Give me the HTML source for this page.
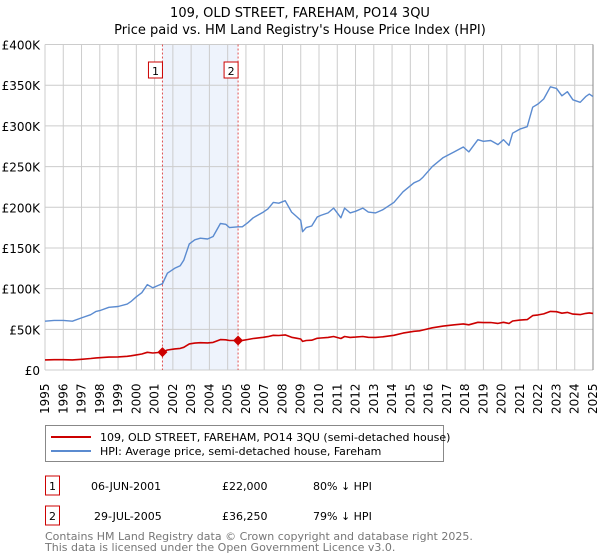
<!DOCTYPE html>
<html><head><meta charset="utf-8"><style>
body{margin:0;background:#fff;font-family:"Liberation Sans","DejaVu Sans",sans-serif;}
#wrap{position:relative;width:600px;height:560px;overflow:hidden}
svg text{font-family:"DejaVu Sans","Liberation Sans",sans-serif}
</style></head><body>
<div id="wrap">
<svg id="chart" width="600" height="560"></svg>
</div>
<script>
const years=[1995.0,1995.5,1996.0,1996.5,1997.0,1997.5,1997.8,1998.0,1998.5,1999.0,1999.5,1999.7,2000.0,2000.3,2000.6,2000.9,2001.2,2001.43,2001.7,2002.1,2002.4,2002.6,2002.9,2003.2,2003.5,2003.9,2004.2,2004.6,2004.9,2005.1,2005.57,2005.8,2006.1,2006.4,2006.95,2007.2,2007.5,2007.8,2008.15,2008.5,2008.8,2009.0,2009.1,2009.3,2009.6,2009.9,2010.1,2010.5,2010.8,2011.2,2011.4,2011.7,2012.0,2012.4,2012.7,2013.1,2013.5,2014.1,2014.6,2015.2,2015.5,2015.7,2016.2,2016.8,2017.4,2017.9,2018.2,2018.7,2019.0,2019.4,2019.8,2020.1,2020.4,2020.6,2021.0,2021.4,2021.7,2022.0,2022.3,2022.67,2023.0,2023.3,2023.6,2023.9,2024.3,2024.6,2024.8,2025.0];
const hpiK=[60,61,61,60,64,68,72,73,77,78,81,84,90,95,105,101,104,106,119,125,128,135,155,160,162,161,164,180,179,175,176,176,181,187,194,198,206,205,208,194,188,184,170,175,177,188,190,193,199,187,199,193,195,199,194,193,197,206,219,230,233,237,250,261,268,274,268,283,281,282,277,283,276,291,296,299,323,327,333,348,346,337,342,332,329,336,339,336];
const propK=[12.4,12.6,12.6,12.4,13.2,14.1,14.9,15.1,15.9,16.1,16.8,17.4,18.6,19.7,21.7,20.9,21.5,22,24.6,25.9,26.5,27.9,32.1,33.1,33.5,33.3,33.9,37.3,37.1,36.2,36.25,36.4,37.5,38.7,40.2,41,42.6,42.4,43.1,40.2,38.9,38.1,35.2,36.2,36.6,38.9,39.3,40,41.2,38.7,41.2,40,40.4,41.2,40.2,40,40.8,42.6,45.3,47.6,48.2,49.1,51.8,54,55.5,56.7,55.5,58.6,58.2,58.4,57.3,58.6,57.1,60.2,61.3,61.9,66.9,67.7,68.9,72,71.6,69.8,70.8,68.7,68.1,69.6,70.2,69.6];
const yTicks=[0,50,100,150,200,250,300,350,400];
const yTickLabels=["£0","£50K","£100K","£150K","£200K","£250K","£300K","£350K","£400K"];
const saleYears=[2001.43,2005.57];
const saleValsK=[22,36.25];
const saleLabels=["1","2"];

const X0=45,X1=593,Y0=370,Y1=44.5;
const x=v=>X0+(v-1995)/30*(X1-X0);
const y=v=>Y0-v/400*(Y0-Y1);
const NS="http://www.w3.org/2000/svg";
const svg=document.getElementById('chart');
function el(t,a,p){const e=document.createElementNS(NS,t);for(const k in a)e.setAttribute(k,a[k]);(p||svg).appendChild(e);return e;}

let t=el('text',{x:300,y:17,'text-anchor':'middle','font-size':13,fill:'#000'});t.textContent='109, OLD STREET, FAREHAM, PO14 3QU';


t=el('text',{x:300,y:34,'text-anchor':'middle','font-size':13,fill:'#000'});t.textContent="Price paid vs. HM Land Registry's House Price Index (HPI)";



let r=el('rect',{x:x(saleYears[0]),y:Y1,width:x(saleYears[1])-x(saleYears[0]),height:Y0-Y1,fill:'#eef3fc'});



for(let yr=1995;yr<=2025;yr++){
  const g=el('line',{x1:x(yr),x2:x(yr),y1:Y1,y2:Y0,stroke:'#cccccc','stroke-width':1});
  
  
  const lx=x(yr)+4,ly=414;
  const tl=el('text',{x:lx,y:ly,'font-size':12,fill:'#000',transform:`rotate(-90 ${lx} ${ly})`});tl.textContent=yr;
  
  
}
yTicks.forEach((v,i)=>{
  const g=el('line',{x1:X0,x2:X1,y1:y(v),y2:y(v),stroke:'#cccccc','stroke-width':1});
  
  
  const tl=el('text',{x:40,y:y(v)+5,'text-anchor':'end','font-size':12,fill:'#000'});tl.textContent=yTickLabels[i];
  
  
});
let rl=el('line',{x1:X1,x2:X1,y1:Y1,y2:Y0,stroke:'#888','stroke-width':1});



saleYears.forEach((s,i)=>{
  const l=el('line',{x1:x(s),x2:x(s),y1:Y1,y2:Y0,stroke:'#e05050','stroke-width':1,'stroke-dasharray':'2,2'});
  
  
  const b=el('rect',{x:x(s)-14,y:62,width:14,height:16,fill:'#fff',stroke:'#cc0000','stroke-width':1});
  
  
  const bt=el('text',{x:x(s)-7,y:75,'text-anchor':'middle','font-size':11,fill:'#000'});bt.textContent=saleLabels[i];
  
  
});

function line(vals,color,name,w){
  const d=vals.map((v,i)=>(i?'L':'M')+x(years[i]).toFixed(1)+','+y(v).toFixed(1)).join('');
  const p=el('path',{d:d,fill:'none',stroke:color,'stroke-width':w,'stroke-linejoin':'round'});
  
  
}
line(hpiK,'#5b8bd0','hpi-line',1.4);
line(propK,'#cc0000','property-line',1.6);
saleYears.forEach((s,i)=>{
  const cx=x(s),cy=y(saleValsK[i]);
  const m=el('path',{d:`M${cx-5},${cy}L${cx},${cy-5}L${cx+5},${cy}L${cx},${cy+5}Z`,fill:'#cc0000'});
  
  
});

const lg=el('g',{});


el('rect',{x:45.5,y:425.5,width:398,height:36,fill:'#fff',stroke:'#888'},lg);
el('line',{x1:51,x2:91,y1:437,y2:437,stroke:'#cc0000','stroke-width':2},lg);
el('line',{x1:51,x2:91,y1:451,y2:451,stroke:'#5b8bd0','stroke-width':2},lg);
t=el('text',{x:100,y:441,'font-size':11,fill:'#000'},lg);t.textContent='109, OLD STREET, FAREHAM, PO14 3QU (semi-detached house)';


t=el('text',{x:100,y:455,'font-size':11,fill:'#000'},lg);t.textContent='HPI: Average price, semi-detached house, Fareham';



const rows=[["1","06-JUN-2001","£22,000","80% ↓ HPI"],["2","29-JUL-2005","£36,250","79% ↓ HPI"]];
rows.forEach((rw,i)=>{
  const cy=487+i*30;
  const b=el('rect',{x:45.5,y:cy-11,width:14,height:19,fill:'#fff',stroke:'#cc0000'});
  
  
  [[52.5,'middle'],[91,'start'],[222,'start'],[313,'start']].forEach((c,j)=>{
    const tt=el('text',{x:c[0]+(j==1&&i==1?3:0),y:cy+3,'font-size':11,fill:'#000','text-anchor':c[1]});tt.textContent=rw[j];
    
    
  });
});
t=el('text',{x:45,y:540,'font-size':11,fill:'#777'});t.textContent='Contains HM Land Registry data © Crown copyright and database right 2025.';


t=el('text',{x:45,y:551,'font-size':11,fill:'#777'});t.textContent='This data is licensed under the Open Government Licence v3.0.';


</script>
</body></html>
